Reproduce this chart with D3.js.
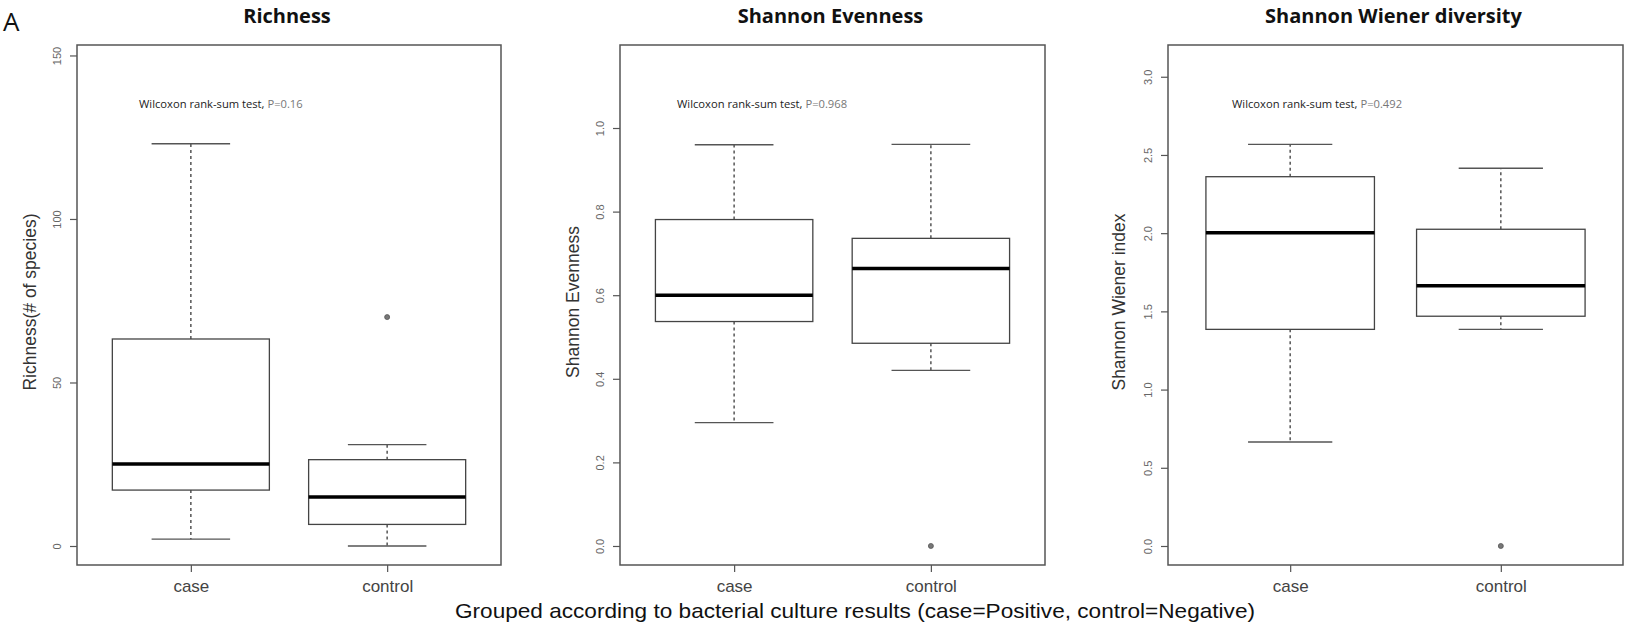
<!DOCTYPE html>
<html><head><meta charset="utf-8">
<script src="https://cdn.jsdelivr.net/npm/d3@7"></script>
<style>body{margin:0;background:#fff}svg{display:block}</style>
</head><body>
<script>
const groups = ["case", "control"];
const panelTitles = ["Richness", "Shannon Evenness", "Shannon Wiener diversity"];
const yLabels = ["Richness(# of species)", "Shannon Evenness", "Shannon Wiener index"];
const pTexts = ["P=0.16", "P=0.968", "P=0.492"];
// [lowerWhisker, Q1, median, Q3, upperWhisker] per group
const richnessStats = [[2.1, 17.1, 25.1, 63.3, 123], [0, 6.6, 15.0, 26.4, 31.0]];
const evennessStats = [[0.295, 0.537, 0.600, 0.781, 0.960], [0.420, 0.485, 0.664, 0.736, 0.961]];
const diversityStats = [[0.665, 1.385, 2.003, 2.361, 2.568], [1.385, 1.469, 1.664, 2.025, 2.415]];
const richnessOutliers = [[], [70]];
const evennessOutliers = [[], [0]];
const diversityOutliers = [[], [0]];
const richnessTicks = [0, 50, 100, 150];
const evennessTicks = [0.0, 0.2, 0.4, 0.6, 0.8, 1.0];
const diversityTicks = [0.0, 0.5, 1.0, 1.5, 2.0, 2.5, 3.0];
const xAxisTitle = "Grouped according to bacterial culture results (case=Positive, control=Negative)";

const W = 1625, H = 626;
const svg = d3.select("body").append("svg").attr("width", W).attr("height", H);
const lineCol = "#555";
const panels = [
  {left: 77, right: 501, domain: [-5.81, 153.2], stats: richnessStats, out: richnessOutliers, ticks: richnessTicks, fmt: d3.format("d"), ylabX: 36, pX: 139},
  {left: 620, right: 1045, domain: [-0.0455, 1.1986], stats: evennessStats, out: evennessOutliers, ticks: evennessTicks, fmt: d3.format(".1f"), ylabX: 579, pX: 677},
  {left: 1168, right: 1623, domain: [-0.1215, 3.203], stats: diversityStats, out: diversityOutliers, ticks: diversityTicks, fmt: d3.format(".1f"), ylabX: 1125, pX: 1232}
];
const plotTop = 45, plotBottom = 565;

svg.append("text").attr("x", 3).attr("y", 31).text("A")
  .style("font-family", "Open Sans").style("font-size", "26px").attr("fill", "#111");

panels.forEach((p, i) => {
  const g = svg.append("g");
  const y = d3.scaleLinear().domain(p.domain).range([plotBottom, plotTop]);
  const x = d3.scaleLinear().domain([0.42, 2.58]).range([p.left, p.right]);
  const unit = x(1) - x(0);
  const boxHalf = unit * 0.4, capHalf = unit * 0.2;

  // y axis
  const ya = g.append("g").attr("transform", `translate(${p.left},0)`)
    .call(d3.axisLeft(y).tickValues(p.ticks).tickFormat(p.fmt).tickSize(7));
  ya.select(".domain").remove();
  ya.selectAll("line").attr("stroke", lineCol).attr("stroke-width", 1.2);
  ya.selectAll(".tick text")
    .attr("x", null).attr("dy", null)
    .attr("transform", "translate(-16,0) rotate(-90)")
    .attr("text-anchor", "middle")
    .style("font-family", "Liberation Sans, Arial").style("font-size", "11px").attr("fill", "#666");

  // x axis
  const xa = g.append("g").attr("transform", `translate(0,${plotBottom})`)
    .call(d3.axisBottom(x).tickValues([1, 2]).tickFormat(d => groups[d - 1]).tickSize(7).tickPadding(8));
  xa.select(".domain").remove();
  xa.selectAll("line").attr("stroke", lineCol).attr("stroke-width", 1.2);
  xa.selectAll("text").style("font-family", "Liberation Sans, Arial").style("font-size", "17px").attr("fill", "#444");

  // frame
  g.append("rect").attr("x", p.left).attr("y", plotTop).attr("width", p.right - p.left).attr("height", plotBottom - plotTop)
    .attr("fill", "none").attr("stroke", lineCol).attr("stroke-width", 1.5);

  // boxes
  groups.forEach((grp, j) => {
    const s = p.stats[j], cx = x(j + 1);
    const bg = g.append("g");
    bg.append("line").attr("x1", cx).attr("x2", cx).attr("y1", y(s[3])).attr("y2", y(s[4]))
      .attr("stroke", lineCol).attr("stroke-width", 1.5).attr("stroke-dasharray", "3,3");
    bg.append("line").attr("x1", cx).attr("x2", cx).attr("y1", y(s[1])).attr("y2", y(s[0]))
      .attr("stroke", lineCol).attr("stroke-width", 1.5).attr("stroke-dasharray", "3,3");
    [s[0], s[4]].forEach(v => bg.append("line").attr("x1", cx - capHalf).attr("x2", cx + capHalf)
      .attr("y1", y(v)).attr("y2", y(v)).attr("stroke", lineCol).attr("stroke-width", 1.3));
    bg.append("rect").attr("x", cx - boxHalf).attr("y", y(s[3])).attr("width", boxHalf * 2)
      .attr("height", y(s[1]) - y(s[3])).attr("fill", "#fff").attr("stroke", "#444").attr("stroke-width", 1.3);
    bg.append("line").attr("x1", cx - boxHalf).attr("x2", cx + boxHalf).attr("y1", y(s[2])).attr("y2", y(s[2]))
      .attr("stroke", "#000").attr("stroke-width", 3.5);
    p.out[j].forEach(v => bg.append("circle").attr("cx", cx).attr("cy", y(v)).attr("r", 2.5)
      .attr("fill", "#777").attr("stroke", "#555").attr("stroke-width", 0.8));
  });

  // title
  svg.append("text").attr("x", (p.left + p.right) / 2 - 2).attr("y", 23).attr("text-anchor", "middle").text(panelTitles[i])
    .style("font-family", "Open Sans").style("font-weight", "bold").style("font-size", "20px").attr("fill", "#111");
  // y label
  svg.append("text").attr("transform", `translate(${p.ylabX},${(plotTop + plotBottom) / 2 - 3}) rotate(-90)`)
    .attr("text-anchor", "middle").text(yLabels[i])
    .style("font-family", "Liberation Sans, Arial").style("font-size", "17.5px").attr("fill", "#333");
  // p text
  const pt = svg.append("text").attr("x", p.pX).attr("y", 108)
    .style("font-family", "Open Sans").style("font-size", "11.2px").attr("fill", "#222");
  pt.append("tspan").text("Wilcoxon rank-sum test, ");
  pt.append("tspan").attr("fill", "#777").text(pTexts[i]);
});

svg.append("text").attr("x", 855).attr("y", 618).attr("text-anchor", "middle").text(xAxisTitle)
  .attr("textLength", 800).attr("lengthAdjust", "spacingAndGlyphs")
  .style("font-family", "Liberation Sans, Arial").style("font-size", "21px").attr("fill", "#111");
</script>
</body></html>
